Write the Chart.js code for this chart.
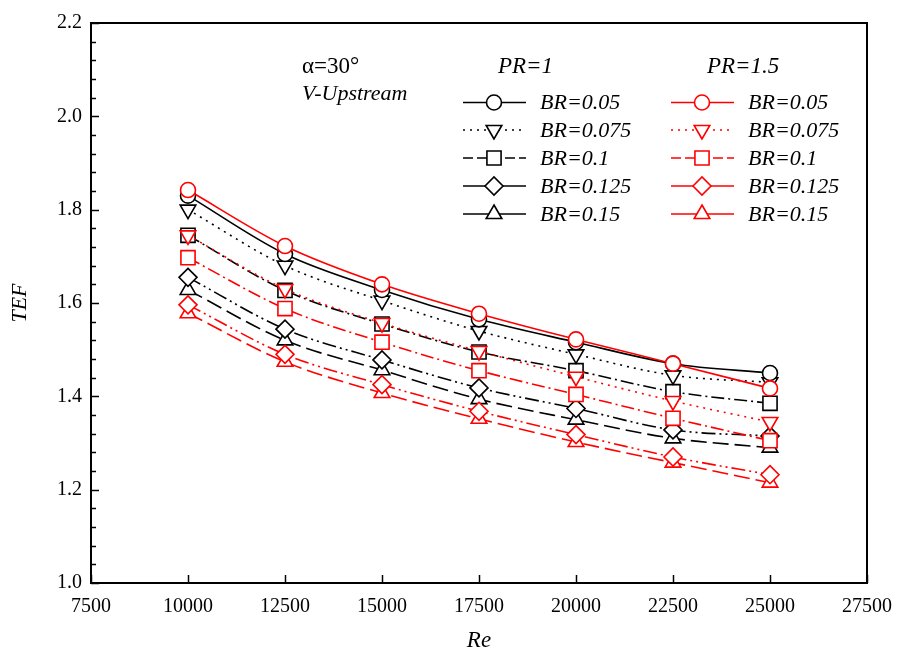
<!DOCTYPE html>
<html>
<head>
<meta charset="utf-8">
<script src="https://cdn.jsdelivr.net/npm/chart.js@4/dist/chart.umd.min.js"></script>
<style>
html,body{margin:0;padding:0;background:#fff;}
#wrap{width:899px;height:658px;position:relative;}
</style>
</head>
<body>
<div id="wrap"><canvas id="c" width="899" height="658"></canvas></div>
<script>
// ---- data ----
const reValues = [10000, 12500, 15000, 17500, 20000, 22500, 25000];
const brLabels = ['BR=0.05', 'BR=0.075', 'BR=0.1', 'BR=0.125', 'BR=0.15'];
const prLabels = ['PR=1', 'PR=1.5'];
const yTickValues = [1.0, 1.2, 1.4, 1.6, 1.8, 2.0, 2.2];
const xTickValues = [7500, 10000, 12500, 15000, 17500, 20000, 22500, 25000, 27500];

const pr1_br005  = [1.830, 1.705, 1.628, 1.565, 1.516, 1.470, 1.450];
const pr1_br0075 = [1.800, 1.680, 1.605, 1.540, 1.490, 1.445, 1.430];
const pr1_br01   = [1.745, 1.627, 1.555, 1.495, 1.455, 1.410, 1.385];
const pr1_br0125 = [1.655, 1.544, 1.478, 1.418, 1.374, 1.328, 1.315];
const pr1_br015  = [1.628, 1.520, 1.456, 1.394, 1.350, 1.310, 1.290];

const pr15_br005  = [1.842, 1.722, 1.640, 1.577, 1.522, 1.470, 1.417];
const pr15_br0075 = [1.745, 1.630, 1.557, 1.497, 1.442, 1.390, 1.345];
const pr15_br01   = [1.697, 1.588, 1.516, 1.455, 1.404, 1.353, 1.305];
const pr15_br0125 = [1.596, 1.490, 1.425, 1.368, 1.318, 1.270, 1.232];
const pr15_br015  = [1.578, 1.474, 1.407, 1.352, 1.302, 1.258, 1.215];

// ---- styles ----
const FONT = '"Liberation Serif", "Times New Roman", serif';
const pr1Series = [pr1_br005, pr1_br0075, pr1_br01, pr1_br0125, pr1_br015];
const pr15Series = [pr15_br005, pr15_br0075, pr15_br01, pr15_br0125, pr15_br015];
const markerStyles = [
  {pointStyle: 'circle', radius: 7.5, rotation: 0},
  {pointStyle: 'triangle', radius: 9, rotation: 180},
  {pointStyle: 'rect', radius: 10, rotation: 0},
  {pointStyle: 'rectRot', radius: 9, rotation: 0},
  {pointStyle: 'triangle', radius: 9, rotation: 0}
];
const lineDashes = [[], [2, 5], [13, 4, 2, 4], [14, 4, 2, 4, 2, 4], [16, 6]];
const legendDashes = [[], [2, 5], [10, 4], [], []];

function toPoints(arr) { return arr.map((v, i) => ({x: reValues[i], y: v})); }
function makeSet(arr, i, color, order, pr) {
  const m = markerStyles[i];
  return {
    label: pr + ' ' + brLabels[i],
    data: toPoints(arr),
    borderColor: color,
    backgroundColor: '#fff',
    borderWidth: 1.6,
    borderDash: lineDashes[i],
    pointStyle: m.pointStyle,
    pointRadius: m.radius,
    pointRotation: m.rotation,
    pointBorderWidth: 1.6,
    pointBorderColor: color,
    pointBackgroundColor: '#fff',
    cubicInterpolationMode: 'monotone',
    order: order,
    _idx: i
  };
}
const datasets = [];
pr15Series.forEach((s, i) => datasets.push(makeSet(s, i, '#ff0000', 0, prLabels[1])));
pr1Series.forEach((s, i) => datasets.push(makeSet(s, i, '#000000', 1, prLabels[0])));

const frameAndLegend = {
  id: 'frameAndLegend',
  afterDatasetsDraw(chart) {
    const ctx = chart.ctx;
    const a = chart.chartArea;
    const xs = chart.scales.x, ys = chart.scales.y;
    ctx.save();
    ctx.strokeStyle = '#000';
    ctx.setLineDash([]);
    // frame
    ctx.lineWidth = 2;
    ctx.strokeRect(a.left, a.top, a.right - a.left, a.bottom - a.top);
    // y ticks (major + minor) inward
    ctx.lineWidth = 1.5;
    for (let k = 0; k <= 30; k++) {
      const v = 1.0 + k * 0.04;
      const py = Math.round(ys.getPixelForValue(v)) + 0.5;
      const len = (k % 5 === 0) ? 8 : 5;
      ctx.beginPath(); ctx.moveTo(a.left, py); ctx.lineTo(a.left + len, py); ctx.stroke();
    }
    // x ticks inward
    xTickValues.forEach(v => {
      const px = Math.round(xs.getPixelForValue(v)) + 0.5;
      ctx.beginPath(); ctx.moveTo(px, a.bottom); ctx.lineTo(px, a.bottom - 8); ctx.stroke();
    });

    // annotation text
    ctx.fillStyle = '#000';
    ctx.textBaseline = 'middle';
    ctx.textAlign = 'left';
    ctx.font = '23px ' + FONT;
    ctx.fillText('\u03b1=30\u00b0', 302, 67);
    ctx.font = 'italic 22px ' + FONT;
    ctx.fillText('V-Upstream', 302, 94);

    // legend
    const cols = [
      {x0: 463, x1: 526, mx: 494, tx: 540, head: prLabels[0], hx: 498, sets: datasets.filter(d => d.order === 1)},
      {x0: 671, x1: 734, mx: 702, tx: 748, head: prLabels[1], hx: 707, sets: datasets.filter(d => d.order === 0)}
    ];
    const rowY = [102.5, 130, 158, 186, 214];
    cols.forEach(col => {
      ctx.font = 'italic 23px ' + FONT;
      ctx.fillStyle = '#000';
      ctx.textAlign = 'left';
      ctx.fillText(col.head, col.hx, 67);
      col.sets.forEach((d) => {
        const y = rowY[d._idx];
        ctx.strokeStyle = d.borderColor;
        ctx.lineWidth = 1.6;
        ctx.setLineDash(legendDashes[d._idx]);
        ctx.beginPath(); ctx.moveTo(col.x0, y); ctx.lineTo(col.x1, y); ctx.stroke();
        ctx.setLineDash([]);
        ctx.fillStyle = '#fff';
        ctx.lineWidth = 1.6;
        Chart.helpers.drawPoint(ctx, {
          pointStyle: d.pointStyle, rotation: d.pointRotation, radius: d.pointRadius, borderWidth: 1.6
        }, col.mx, y);
        ctx.fillStyle = '#000';
        ctx.font = 'italic 22px ' + FONT;
        ctx.fillText(brLabels[d._idx], col.tx, y + 1);
      });
    });
    ctx.restore();
  }
};

new Chart(document.getElementById('c'), {
  type: 'line',
  data: {datasets: datasets},
  options: {
    responsive: false,
    animation: false,
    layout: {padding: {top: 23, right: 32, left: 0, bottom: 0}},
    plugins: {legend: {display: false}, tooltip: {enabled: false}},
    scales: {
      x: {
        type: 'linear',
        min: 7500, max: 27500,
        afterFit(s) { s.height = 75; s.paddingRight = 0; s.paddingLeft = 0; },
        afterBuildTicks(s) { s.ticks = xTickValues.map(v => ({value: v})); },
        grid: {display: false, drawTicks: false},
        border: {display: false},
        ticks: {
          padding: 12, color: '#000',
          font: {family: FONT, size: 20},
          callback: v => String(v)
        },
        title: {
          display: true, text: 'Re', color: '#000',
          font: {family: FONT, size: 23, style: 'italic'},
          padding: 3
        }
      },
      y: {
        type: 'linear',
        min: 1.0, max: 2.2,
        afterFit(s) { s.width = 91; s.paddingTop = 0; s.paddingBottom = 0; },
        afterBuildTicks(s) { s.ticks = yTickValues.map(v => ({value: v})); },
        grid: {display: false, drawTicks: false},
        border: {display: false},
        ticks: {
          padding: 9, color: '#000',
          font: {family: FONT, size: 20},
          callback: v => Number(v).toFixed(1)
        },
        title: {
          display: true, text: 'TEF', color: '#000',
          font: {family: FONT, size: 22, style: 'italic'},
          padding: 7
        }
      }
    }
  },
  plugins: [frameAndLegend]
});
</script>
</body>
</html>
